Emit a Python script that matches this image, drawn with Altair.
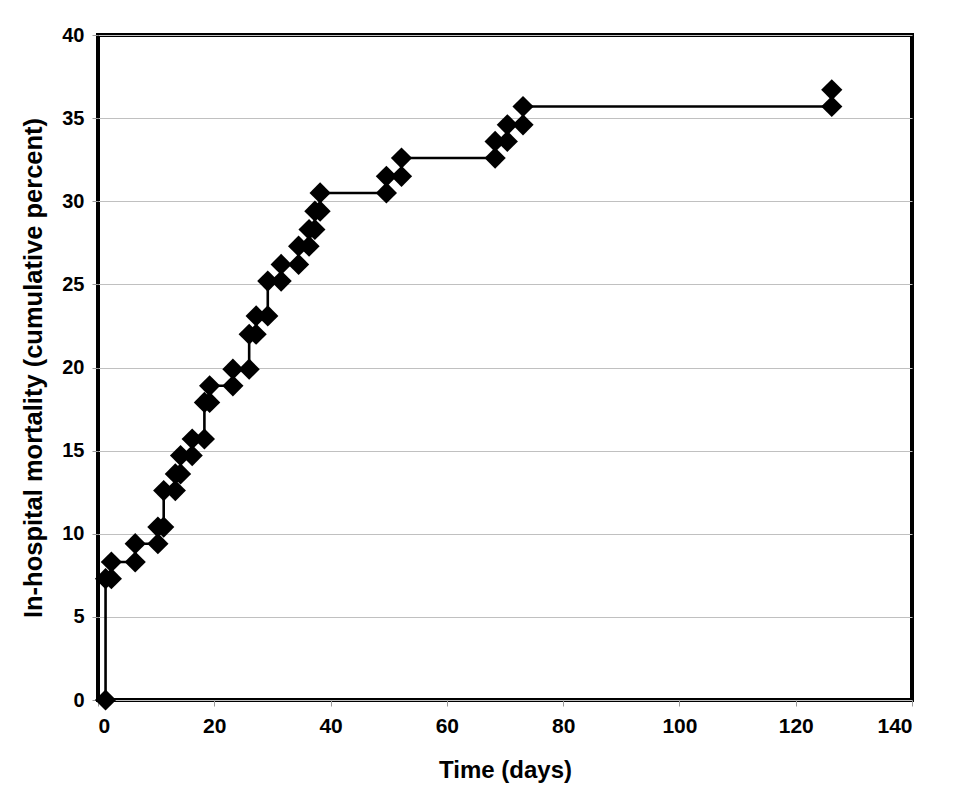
import altair as alt
import pandas as pd

# Event times (days) and cumulative in-hospital mortality (%) after each event
event_days = [1.3, 2.3, 6.4, 10.3, 11.3, 13.3, 14.2, 16.2, 18.3, 19.2, 23.2, 26.0,
              27.2, 29.2, 31.5, 34.5, 36.3, 37.3, 38.2, 49.6, 52.2, 68.3, 70.4,
              73.1, 126.2]
cum_percent = [7.3, 8.3, 9.4, 10.4, 12.6, 13.6, 14.7, 15.7, 17.9, 18.9, 19.9, 22.0,
               23.1, 25.2, 26.2, 27.3, 28.3, 29.4, 30.5, 31.5, 32.6, 33.6, 34.6,
               35.7, 36.7]
start_percent = 0.0

x_ticks = [0, 20, 40, 60, 80, 100, 120, 140]
y_ticks = [0, 5, 10, 15, 20, 25, 30, 35, 40]

rows = []
prev = start_percent
for t, c in zip(event_days, cum_percent):
    rows.append({"day": t, "pct": prev})
    rows.append({"day": t, "pct": c})
    prev = c
df = pd.DataFrame(rows)
df["idx"] = range(len(df))

FONT = "Liberation Sans"

x = alt.X("day:Q", scale=alt.Scale(domain=[0, 140], nice=False),
          axis=alt.Axis(values=x_ticks, title="Time (days)", grid=False,
                        domain=False, tickColor="#999999", tickSize=6,
                        labelPadding=9, labelFontSize=21, labelFont=FONT,
                        labelFontWeight="bold", labelColor="black",
                        titleFontSize=24, titleFont=FONT, titleFontWeight="bold",
                        titleColor="black", titlePadding=22))
y = alt.Y("pct:Q", scale=alt.Scale(domain=[0, 40], nice=False),
          axis=alt.Axis(values=y_ticks, title="In-hospital mortality (cumulative percent)",
                        grid=True, gridColor="#c0c0c0", gridWidth=1,
                        domain=False, tickColor="#999999", tickSize=6,
                        labelPadding=8, labelFontSize=20, labelFont=FONT,
                        labelFontWeight="bold", labelColor="black",
                        titleFontSize=25.5, titleFont=FONT, titleFontWeight="bold",
                        titleColor="black", titlePadding=15))

line = alt.Chart(df).mark_line(color="black", strokeWidth=2.6).encode(
    x=x, y=y, order="idx:Q")
pts = alt.Chart(df).mark_point(shape="diamond", filled=True, color="black",
                               size=450, opacity=1).encode(x="day:Q", y="pct:Q")

chart = (line + pts).properties(
    width=814, height=665,
    autosize=alt.AutoSizeParams(type="none"),
    padding={"left": 90, "top": 27, "right": 36, "bottom": 91},
).configure_view(stroke="black", strokeWidth=4)

chart.save("out.html", embed_options={"renderer": "svg", "actions": False})
